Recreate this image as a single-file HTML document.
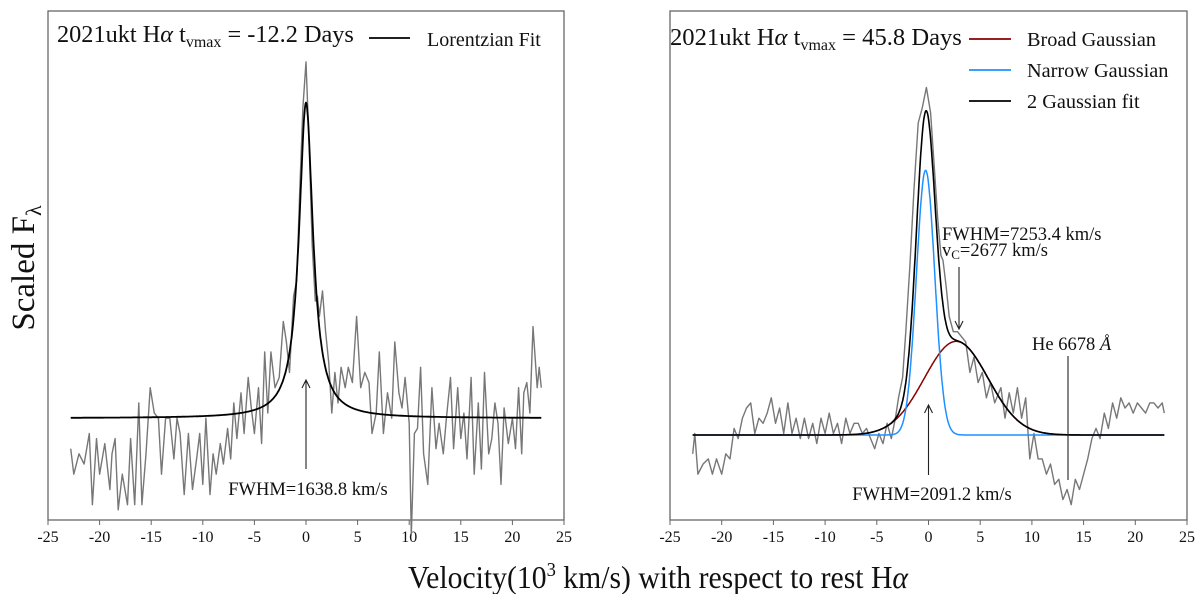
<!DOCTYPE html>
<html><head><meta charset="utf-8"><style>
body{margin:0;background:#fff}
svg text{font-family:"Liberation Serif",serif;fill:#111}
</style></head><body>
<svg id="c" width="1200" height="594" viewBox="0 0 1200 594" xmlns="http://www.w3.org/2000/svg">
<g id="L"></g>
<g id="R"></g>
<text x="34" y="268" font-size="33" text-anchor="middle" transform="rotate(-90 34 268)">Scaled F<tspan font-size="22" dy="7">λ</tspan></text>
<text x="408" y="588" font-size="32" textLength="500" lengthAdjust="spacingAndGlyphs">Velocity(10<tspan font-size="20" dy="-12">3</tspan><tspan dy="12"> km/s) with respect to rest H</tspan><tspan font-style="italic">α</tspan></text>
</svg>
<script>
const ticks=[-25,-20,-15,-10,-5,0,5,10,15,20,25];
const leftVel=[-22.8,-22.5,-22,-21.5,-21,-20.7,-20.3,-20,-19.5,-19,-18.8,-18.5,-18.2,-17.8,-17.3,-17,-16.6,-16.2,-15.9,-15.5,-15.1,-14.7,-14.3,-14,-13.6,-13.2,-12.8,-12.5,-12.2,-11.8,-11.4,-11,-10.6,-10.3,-10,-9.7,-9.3,-9,-8.7,-8.3,-8,-7.6,-7.3,-7,-6.7,-6.3,-6,-5.6,-5.3,-5,-4.6,-4.3,-4,-3.7,-3.4,-3,-2.6,-2.2,-1.9,-1.6,-1.2,-0.9,-0.6,-0.3,0,0.3,0.6,0.9,1.1,1.3,1.6,1.9,2.2,2.5,2.8,3.1,3.4,3.8,4.1,4.5,4.9,5.3,5.7,6.1,6.4,6.8,7.1,7.5,7.9,8.3,8.6,9,9.3,9.6,10,10.2,10.5,10.8,11.1,11.4,11.8,12.2,12.6,12.9,13.3,13.6,14,14.3,14.7,15,15.3,15.6,16,16.3,16.7,17,17.3,17.7,18,18.3,18.6,18.9,19.2,19.6,20,20.3,20.6,20.9,21.1,21.4,21.7,22,22.4,22.6,22.8];
const leftFlux=[0.14,0.09,0.13,0.11,0.17,0.03,0.16,0.09,0.15,0.06,0.13,0.16,0.02,0.09,0.03,0.16,0.03,0.23,0.03,0.13,0.26,0.21,0.20,0.09,0.20,0.20,0.12,0.20,0.17,0.05,0.17,0.06,0.12,0.17,0.07,0.20,0.05,0.13,0.09,0.15,0.11,0.18,0.12,0.23,0.16,0.25,0.17,0.28,0.22,0.17,0.26,0.15,0.33,0.21,0.33,0.26,0.28,0.39,0.35,0.29,0.44,0.47,0.65,0.81,0.90,0.74,0.54,0.43,0.44,0.40,0.45,0.37,0.31,0.21,0.29,0.23,0.30,0.26,0.30,0.27,0.40,0.26,0.29,0.27,0.17,0.21,0.33,0.17,0.25,0.20,0.35,0.25,0.22,0.28,0.19,-0.03,0.17,0.18,0.30,0.13,0.07,0.26,0.14,0.19,0.13,0.20,0.28,0.14,0.26,0.16,0.21,0.12,0.28,0.09,0.23,0.10,0.29,0.13,0.16,0.23,0.19,0.07,0.22,0.15,0.20,0.14,0.26,0.13,0.25,0.27,0.21,0.38,0.26,0.30,0.26];
const lorentzParams=[0.20,0.62,0.0,0.82]; // continuum, amplitude, center, half-width
const rightVel=[-22.8,-22.6,-22.3,-21.8,-21.3,-20.9,-20.5,-20,-19.6,-19.2,-18.8,-18.4,-18,-17.6,-17.2,-16.8,-16.4,-16,-15.6,-15.2,-14.8,-14.4,-14,-13.6,-13.2,-12.8,-12.4,-12,-11.6,-11.2,-10.8,-10.4,-10,-9.6,-9.2,-8.8,-8.4,-8,-7.6,-7.2,-6.8,-6.4,-6,-5.6,-5.2,-4.8,-4.4,-4,-3.6,-3.2,-2.9,-2.5,-2.2,-1.8,-1.4,-1,-0.6,-0.2,0.2,0.5,0.9,1.2,1.4,1.7,2,2.4,2.8,3.2,3.6,4,4.4,4.8,5.2,5.6,6,6.4,7,7.4,7.8,8.2,8.6,9,9.4,9.8,10.2,10.6,11,11.4,11.8,12.2,12.6,13,13.4,13.8,14.2,14.6,15,15.4,15.8,16.2,16.6,17,17.4,17.8,18.2,18.6,19,19.4,19.8,20.2,20.6,21,21.4,21.8,22.2,22.6,22.8];
const rightFlux=[0.13,0.17,0.09,0.11,0.12,0.09,0.12,0.09,0.13,0.12,0.18,0.16,0.20,0.22,0.23,0.17,0.20,0.19,0.21,0.24,0.19,0.22,0.17,0.23,0.17,0.20,0.16,0.20,0.16,0.19,0.15,0.20,0.17,0.21,0.17,0.19,0.15,0.20,0.17,0.19,0.19,0.17,0.18,0.16,0.14,0.17,0.15,0.19,0.16,0.20,0.24,0.28,0.37,0.50,0.65,0.78,0.81,0.85,0.80,0.71,0.59,0.52,0.51,0.46,0.40,0.37,0.37,0.36,0.35,0.29,0.32,0.27,0.29,0.24,0.27,0.23,0.26,0.20,0.25,0.21,0.26,0.20,0.24,0.12,0.17,0.12,0.12,0.09,0.11,0.07,0.08,0.04,0.06,0.03,0.08,0.06,0.09,0.12,0.16,0.18,0.16,0.21,0.18,0.23,0.20,0.24,0.22,0.23,0.21,0.23,0.22,0.21,0.23,0.23,0.22,0.23,0.21];
const narrowParams=[0.52,-0.28,0.888]; // amp, center, sigma
const broadParams=[0.184,2.677,3.08];
const continuumR=0.167;

const NS='http://www.w3.org/2000/svg';
function mk(p,t,a){const e=document.createElementNS(NS,t);for(const k in a)e.setAttribute(k,a[k]);p.appendChild(e);return e;}
function axes(g,x0,x1,y0,y1){
  const sx=v=>x0+(v+25)/50*(x1-x0);
  const fr=mk(g,'rect',{x:x0,y:y0,width:x1-x0,height:y1-y0,fill:'none',stroke:'#666','stroke-width':1.3});
  
  
  ticks.forEach(t=>{
    const l=mk(g,'line',{x1:sx(t),x2:sx(t),y1:y1,y2:y1+5,stroke:'#666'});
    
    
    const tx=mk(g,'text',{x:sx(t),y:y1+22,'font-size':16,'text-anchor':'middle'});
    tx.textContent=t;
    
    
  });
  return [sx,v=>y1-v*509];
}
function poly(g,xs,ys,sx,sy,col,w,name){
  const p=mk(g,'polyline',{points:xs.map((x,i)=>sx(x).toFixed(1)+','+sy(ys[i]).toFixed(1)).join(' '),fill:'none',stroke:col,'stroke-width':w,'stroke-linejoin':'round'});
  
  
}
function arrow(g,x,ya,yb,name){
  const l=mk(g,'path',{d:`M${x},${yb} L${x},${ya} M${x-4},${ya+8} L${x},${ya} L${x+4},${ya+8}`,fill:'none',stroke:'#222','stroke-width':1.1});
  
  
  return l;
}
function txt(g,x,y,s,html,anchor,name){
  const t=mk(g,'text',{x:x,y:y,'font-size':s,'text-anchor':anchor||'start'});
  t.innerHTML=html;
  
  
}
const grid=[];for(let v=-22.8;v<=22.81;v+=0.05)grid.push(v);

// Left
const L=document.getElementById('L');
let [sx,sy]=axes(L,48,564,11,520);
poly(L,leftVel,leftFlux,sx,sy,'#777',1.4,'observed-spectrum-left');
const lor=grid.map(v=>lorentzParams[0]+lorentzParams[1]/(1+((v-lorentzParams[2])/lorentzParams[3])**2));
poly(L,grid,lor,sx,sy,'#000',1.8,'lorentzian-fit');
arrow(L,sx(0),380,469,'fwhm-arrow-left');
txt(L,sx(0)+2,495,18.5,'FWHM=1638.8 km/s','middle','fwhm-label-left');
txt(L,57,42,24.3,'2021ukt H<tspan font-style="italic">α</tspan> t<tspan font-size="16" dy="5">vmax</tspan><tspan dy="-5"> = -12.2 Days</tspan>','start','panel-title-left');
const ll=mk(L,'line',{x1:369,x2:410,y1:38,y2:38,stroke:'#000','stroke-width':1.8});


txt(L,427,46,20,'Lorentzian Fit','start','legend-lorentzian-label');

// Right
const R=document.getElementById('R');
[sx,sy]=axes(R,670,1187,11,520);
poly(R,rightVel,rightFlux,sx,sy,'#777',1.4,'observed-spectrum-right');
const g=(v,p)=>p[0]*Math.exp(-((v-p[1])**2)/(2*p[2]**2));
poly(R,grid,grid.map(v=>continuumR+g(v,broadParams)),sx,sy,'#8b0000',1.5,'broad-gaussian');
poly(R,grid,grid.map(v=>continuumR+g(v,narrowParams)),sx,sy,'#1e90ff',1.5,'narrow-gaussian');
poly(R,grid,grid.map(v=>continuumR+g(v,narrowParams)+g(v,broadParams)),sx,sy,'#000',1.6,'two-gaussian-fit');
arrow(R,sx(0),405,475,'fwhm-arrow-narrow');
txt(R,932,500,18.5,'FWHM=2091.2 km/s','middle','fwhm-label-narrow');
const va=arrow(R,959,267,329,'vc-arrow');
va.setAttribute('d','M959,267 L959,329 M955,321 L959,329 L963,321');
txt(R,942,240,18.5,'FWHM=7253.4 km/s','start','fwhm-label-broad');
txt(R,942,256,18.5,'v<tspan font-size="13" dy="3">C</tspan><tspan dy="-3">=2677 km/s</tspan>','start','vc-label');
const he=mk(R,'line',{x1:1068,x2:1068,y1:356,y2:480,stroke:'#222','stroke-width':1.1});


txt(R,1032,350,18.5,'He 6678 <tspan font-style="italic">Å</tspan>','start','he-6678-label');
txt(R,670,45,24.6,'2021ukt H<tspan font-style="italic">α</tspan> t<tspan font-size="16" dy="5">vmax</tspan><tspan dy="-5"> = 45.8 Days</tspan>','start','panel-title-right');
const leg=[['#8b0000','Broad Gaussian',39],['#1e90ff','Narrow Gaussian',70],['#000','2 Gaussian fit',101]];
leg.forEach(([c,t,y])=>{
  const l=mk(R,'line',{x1:969,x2:1011,y1:y,y2:y,stroke:c,'stroke-width':1.8});
  
  
  txt(R,1027,y+7,20.3,t,'start','legend-label');
});
</script>
</body></html>
